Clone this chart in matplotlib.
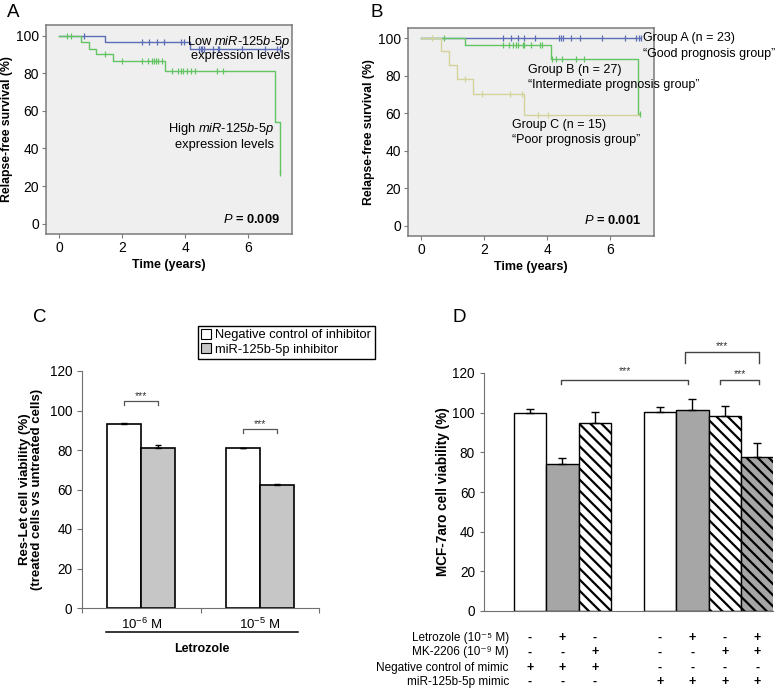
import numpy as np
import matplotlib.pyplot as plt
from matplotlib.patches import Patch

plt.rcParams['font.family'] = ['Liberation Sans', 'DejaVu Sans']
plt.rcParams['mathtext.fontset'] = 'custom'
plt.rcParams['mathtext.rm'] = 'Liberation Sans'
plt.rcParams['mathtext.it'] = 'Liberation Sans:italic'
plt.rcParams['mathtext.bf'] = 'Liberation Sans:bold'
plt.rcParams['hatch.linewidth'] = 1.6

# ---------------- data ----------------
# A: Kaplan-Meier, miR-125b-5p expression
low_t = [0, 1.44, 4.15]
low_s = [100, 96.6, 92.6]
low_cens = [0.78, 2.62, 2.83, 3.10, 3.32, 3.85, 3.97, 4.43, 4.48, 4.52, 4.60,
            4.88, 5.02, 5.08, 5.80, 6.52, 6.92, 6.99]
high_t = [0, 0.69, 0.95, 1.17, 1.69, 3.35, 6.83, 6.99]
high_s = [100, 96.7, 93.0, 90.0, 86.6, 81.2, 54.0, 27.0]
high_cens = [0.23, 0.38, 1.45, 1.98, 2.62, 2.82, 2.93, 3.00, 3.07, 3.14, 3.26,
             3.56, 3.77, 3.85, 3.92, 4.06, 4.18, 4.31, 4.99, 5.20, 7.00]

# B: Kaplan-Meier, prognosis groups
grpA_t = [0]
grpA_s = [100]
grpA_cens = [2.59, 2.86, 3.08, 3.27, 3.61, 4.36, 4.43, 4.51, 4.76, 5.04, 5.72,
             6.46, 6.81, 6.91, 6.96]
grpB_t = [0, 1.38, 4.10, 6.88]
grpB_s = [100, 96.3, 89.1, 59.6]
grpB_cens = [0.72, 2.59, 2.77, 2.90, 2.99, 3.06, 3.22, 3.26, 3.47, 3.77, 3.82,
             4.16, 4.27, 4.45, 4.92, 5.15, 6.94]
grpC_t = [0, 0.64, 0.89, 1.14, 1.65, 3.27]
grpC_s = [100, 93.1, 86.1, 78.5, 70.5, 59.3]
grpC_cens = [0.34, 1.38, 1.93, 2.80, 3.19, 3.69, 4.03]
grpC_end = 6.9

# C: Res-Let viability
conc_labels = ['10$^{-6}$ M', '10$^{-5}$ M']
negctrl_inh = [93.2, 80.9]
negctrl_inh_err = [0.6, 0.3]
inhibitor = [81.0, 62.3]
inhibitor_err = [1.5, 0.4]

# D: MCF-7aro viability
d_pos = [0, 1, 2, 4, 5, 6, 7]
d_vals = [100.0, 74.0, 95.0, 100.2, 101.2, 98.3, 77.5]
d_err = [2.0, 3.0, 5.5, 2.7, 5.8, 5.3, 7.2]
row_names = ['Letrozole (10\u207b\u2075 M)', 'MK-2206 (10\u207b\u2079 M)',
             'Negative control of mimic', 'miR-125b-5p mimic']
letrozole = ['-', '+', '-', '-', '+', '-', '+']
mk2206 = ['-', '-', '+', '-', '-', '+', '+']
neg_mimic = ['+', '+', '+', '-', '-', '-', '-']
mir_mimic = ['-', '-', '-', '+', '+', '+', '+']

blue = '#5b6db5'
green = '#62c462'
tan = '#d2d29a'
bg = '#efefef'
gray_c = '#c6c6c6'
gray_d = '#a6a6a6'

fig = plt.figure(figsize=(7.78, 6.91), dpi=100)
W, H = 778, 691


def axes_px(left, top, right, bottom):
    return fig.add_axes([left / W, 1 - bottom / H, (right - left) / W, (bottom - top) / H])


def km(ax, t, s, cens, color, end=None):
    t = list(t)
    s = list(s)
    if end is None:
        end = max(max(cens), t[-1])
    tt = t + [end]
    ss = s + [s[-1]]
    ax.step(tt, ss, where='post', color=color, lw=1.0)
    idx = np.searchsorted(t, cens, side='right') - 1
    ax.plot(cens, np.array(s)[idx], ls='none', marker='|', ms=5, mew=0.9, color=color)


def km_style(ax):
    ax.set_facecolor(bg)
    for sp in ax.spines.values():
        sp.set_color('#7a7a7a')
        sp.set_linewidth(1.1)
    ax.set_xlim(-0.42, 7.38)
    ax.set_ylim(-5.5, 105.6)
    ax.set_xticks([0, 2, 4, 6])
    ax.set_yticks([0, 20, 40, 60, 80, 100])
    ax.tick_params(labelsize=10, length=3, color='#7a7a7a', pad=2)
    ax.set_xlabel('Time (years)', fontsize=9, fontweight='bold', labelpad=3)


# ---------------- A ----------------
axA = axes_px(46, 25, 292, 234)
km_style(axA)
km(axA, low_t, low_s, low_cens, blue, end=7.0)
km(axA, high_t, high_s, high_cens, green)
axA.set_ylabel('Relapse-free survival (%)', fontsize=8.8, fontweight='bold', labelpad=2)
axA.text(7.33, 96.5, 'Low $\\mathit{miR}$-$\\mathit{125b}$-$\\mathit{5p}$', ha='right', va='center', fontsize=9.3)
axA.text(7.33, 89.2, 'expression levels', ha='right', va='center', fontsize=9.3)
axA.text(6.80, 50.2, 'High $\\mathit{miR}$-$\\mathit{125b}$-$\\mathit{5p}$', ha='right', va='center', fontsize=9.3)
axA.text(6.80, 42.0, 'expression levels', ha='right', va='center', fontsize=9.3)
axA.text(6.99, 2, '$\\mathbf{\\mathit{P}}$ = 0.009', ha='right', va='center', fontsize=9.3, fontweight='bold')
fig.text(7 / W, 1 - 4 / H, 'A', fontsize=13.5, va='top', ha='left')

# ---------------- B ----------------
axB = axes_px(408, 28, 654, 236)
km_style(axB)
km(axB, grpA_t, grpA_s, grpA_cens, blue)
km(axB, grpB_t, grpB_s, grpB_cens, green)
km(axB, grpC_t, grpC_s, grpC_cens, tan, end=grpC_end)
axB.set_ylabel('Relapse-free survival (%)', fontsize=8.8, fontweight='bold', labelpad=2)
axB.text(7.02, 100, 'Group A (n = 23)', ha='left', va='center', fontsize=9)
axB.text(7.02, 91.8, '\u201cGood prognosis group\u201d', ha='left', va='center', fontsize=9)
axB.text(3.37, 83.3, 'Group B (n = 27)', ha='left', va='center', fontsize=9)
axB.text(3.37, 75.4, '\u201cIntermediate prognosis group\u201d', ha='left', va='center', fontsize=9)
axB.text(2.87, 53.9, 'Group C (n = 15)', ha='left', va='center', fontsize=9)
axB.text(2.87, 46.0, '\u201cPoor prognosis group\u201d', ha='left', va='center', fontsize=9)
axB.text(6.97, 2.8, '$\\mathbf{\\mathit{P}}$ = 0.001', ha='right', va='center', fontsize=9.3, fontweight='bold')
fig.text(371 / W, 1 - 4 / H, 'B', fontsize=13.5, va='top', ha='left')

# ---------------- C ----------------
axC = axes_px(82, 371, 319, 608)
xc = np.arange(len(conc_labels))
bw = 0.287
axC.bar(xc - bw / 2, negctrl_inh, bw, color='white', edgecolor='black', lw=1.2)
axC.bar(xc + bw / 2, inhibitor, bw, color=gray_c, edgecolor='black', lw=1.2)
axC.errorbar(xc - bw / 2, negctrl_inh, yerr=[np.zeros(2), negctrl_inh_err], fmt='none',
             ecolor='black', elinewidth=1, capsize=2)
axC.errorbar(xc + bw / 2, inhibitor, yerr=[np.zeros(2), inhibitor_err], fmt='none',
             ecolor='black', elinewidth=1, capsize=2)
axC.set_xlim(-0.5, 1.5)
axC.set_ylim(0, 120)
axC.set_yticks(range(0, 121, 20))
axC.set_xticks([-0.5, 0.5, 1.5])
axC.set_xticklabels([])
axC.set_xticks(xc, minor=True)
axC.set_xticklabels(conc_labels, minor=True, fontsize=9.5)
axC.tick_params(axis='x', which='minor', length=0, pad=6)
axC.tick_params(axis='both', which='major', length=3.5, color='#707070', labelsize=9.8)
for sp in ['top', 'right']:
    axC.spines[sp].set_visible(False)
for sp in ['left', 'bottom']:
    axC.spines[sp].set_color('#707070')
axC.set_ylabel('Res-Let cell viability (%)\n(treated cells vs untreated cells)',
               fontsize=9.5, fontweight='bold', labelpad=5, linespacing=1.0)
# significance brackets
for xcen, ytop, ybot, ystar in [(0, 104.8, 102.8, 107.5), (1, 90.5, 88.5, 93.2)]:
    x0, x1 = xcen - bw / 2, xcen + bw / 2
    axC.plot([x0, x0, x1, x1], [ybot, ytop, ytop, ybot], color='#555555', lw=0.9)
    axC.text(xcen, ystar, '***', ha='center', va='center', fontsize=7.5, color='#333333')
# Letrozole line and label
axC.plot([-0.297, 1.323], [-12.2, -12.2], color='black', lw=1.1, clip_on=False)
axC.text(0.513, -20.8, 'Letrozole', ha='center', va='center', fontsize=9, fontweight='bold')
axC.legend(handles=[Patch(facecolor='white', edgecolor='black', lw=0.8),
                    Patch(facecolor=gray_c, edgecolor='black', lw=0.8)],
           labels=['Negative control of inhibitor', 'miR-125b-5p inhibitor'],
           loc='upper left', bbox_to_anchor=(198 / W, 1 - 326 / H), bbox_transform=fig.transFigure,
           fontsize=9.3, frameon=True, fancybox=False, edgecolor='black', framealpha=1,
           borderpad=0.25, labelspacing=0.15, handlelength=0.75, handleheight=0.75,
           handletextpad=0.35, borderaxespad=0)
fig.text(33 / W, 1 - 309 / H, 'C', fontsize=13.5, va='top', ha='left')

# ---------------- D ----------------
axD = axes_px(484, 373, 773, 611)
d_face = ['white', gray_d, 'white', 'white', gray_d, 'white', gray_d]
d_hatch = ['', '', '\\\\\\', '', '', '\\\\\\', '\\\\\\']
for x, v, fc, h in zip(d_pos, d_vals, d_face, d_hatch):
    axD.bar(x, v, 1.0, color=fc, edgecolor='black', lw=1.0, hatch=h)
axD.errorbar(d_pos, d_vals, yerr=[np.zeros(len(d_vals)), d_err], fmt='none',
             ecolor='black', elinewidth=1, capsize=3)
axD.set_xlim(-1.415, 7.48)
axD.set_ylim(0, 120)
axD.set_yticks(range(0, 121, 20))
axD.set_xticks([])
axD.tick_params(axis='y', length=3, color='#707070', labelsize=9.8)
for sp in ['top', 'right']:
    axD.spines[sp].set_visible(False)
for sp in ['left', 'bottom']:
    axD.spines[sp].set_color('#707070')
axD.set_ylabel('MCF-7aro cell viability (%)', fontsize=9.8, fontweight='bold', labelpad=2)
# brackets
for x0, x1, ytop, ybot, xs, ys in [(0.95, 4.86, 116.5, 114.4, 2.92, 121.0),
                                   (4.77, 7.05, 130.6, 125.0, 5.92, 133.8),
                                   (5.85, 7.05, 116.5, 114.4, 6.45, 119.6)]:
    axD.plot([x0, x0, x1, x1], [ybot, ytop, ytop, ybot], color='#444444', lw=1.0, clip_on=False)
    axD.text(xs, ys, '***', ha='center', va='center', fontsize=7.5, color='#333333')
# condition table
tr = axD.get_xaxis_transform()
row_y = [-0.113, -0.174, -0.238, -0.298]
for name, signs, yy in zip(row_names, [letrozole, mk2206, neg_mimic, mir_mimic], row_y):
    axD.text(-0.65, yy, name, ha='right', va='center', fontsize=8.5, transform=tr)
    for x, sgn in zip(d_pos, signs):
        axD.text(x, yy, sgn, ha='center', va='center', fontsize=9, fontweight='bold', transform=tr)
fig.text(452 / W, 1 - 309 / H, 'D', fontsize=13.5, va='top', ha='left')

fig.savefig('out.png', dpi=100)
